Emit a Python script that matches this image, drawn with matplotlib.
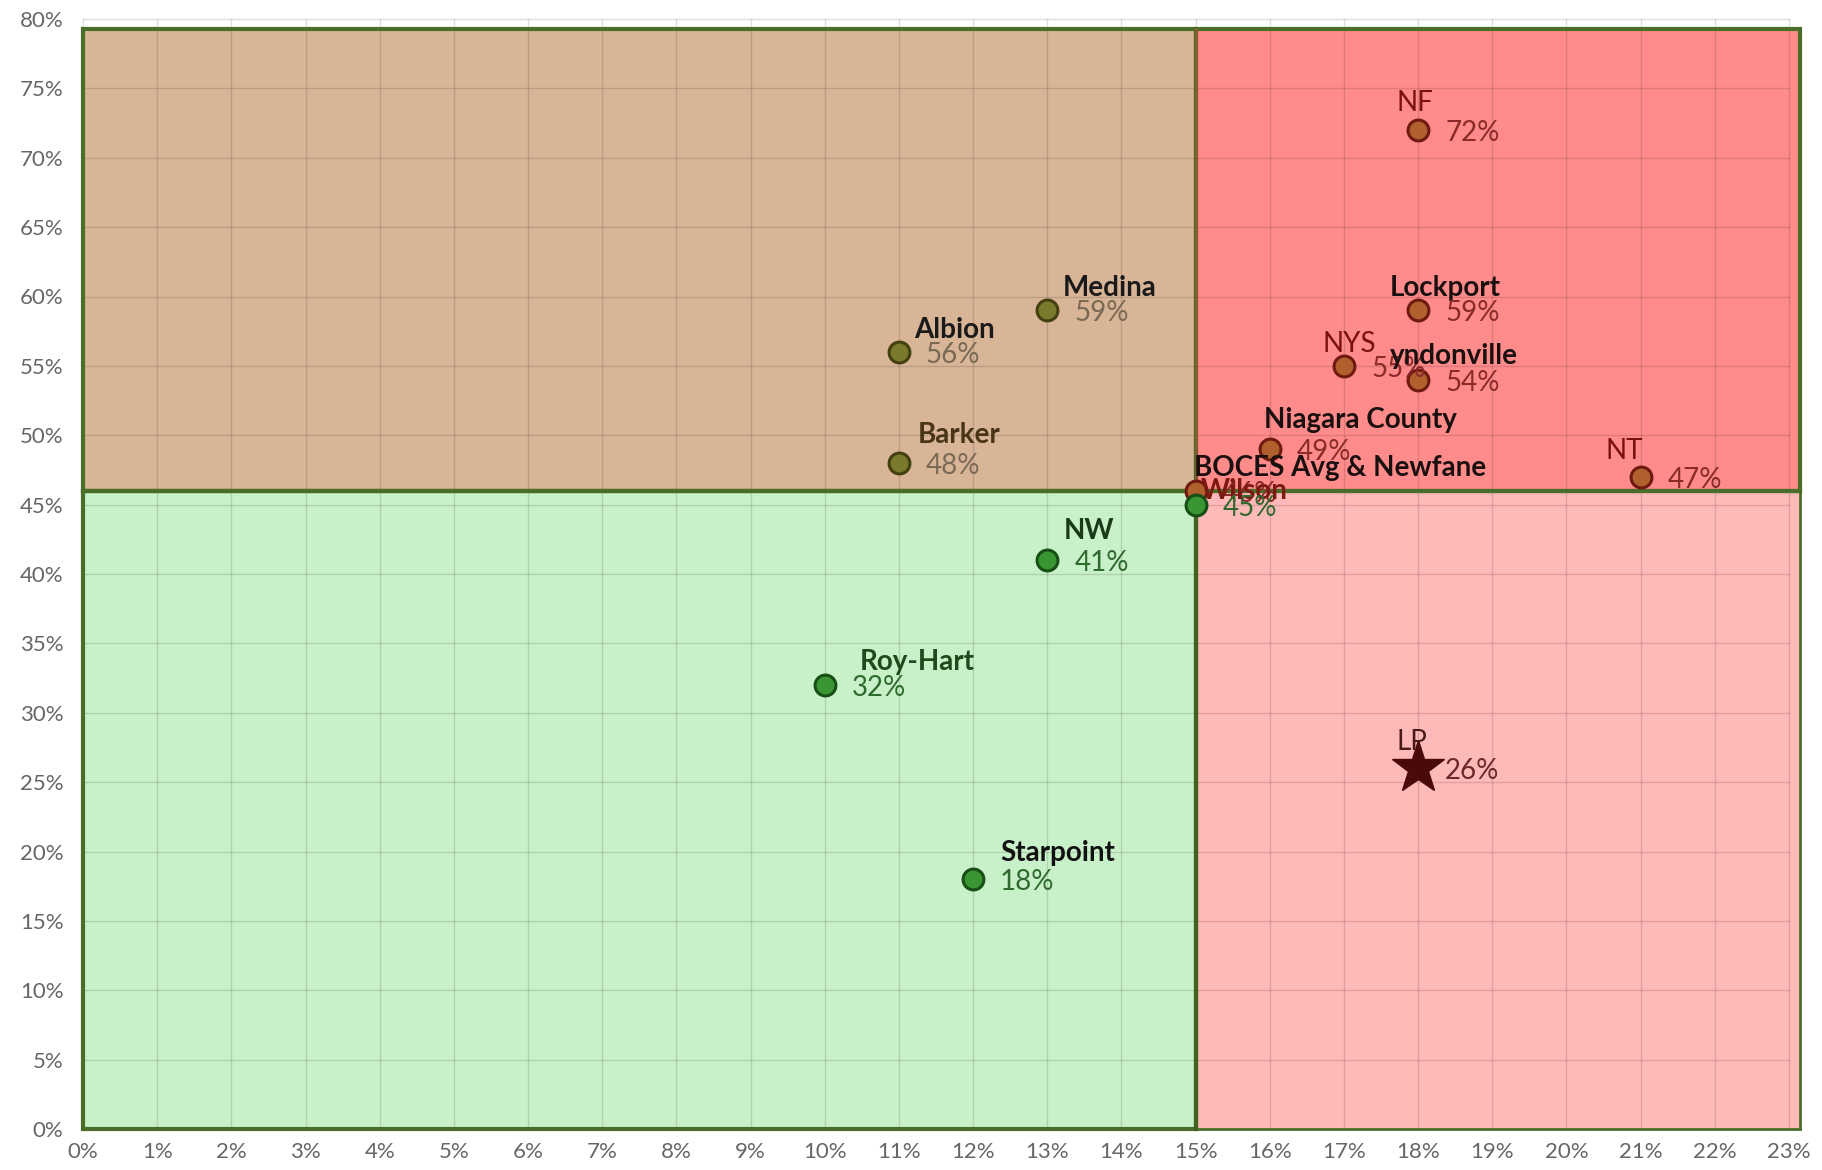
import matplotlib
matplotlib.use('Agg')
import matplotlib.pyplot as plt
from matplotlib.patches import Rectangle

plt.rcParams['font.family'] = ['Lato', 'DejaVu Sans']

# ---------------- data ----------------
names = ["NF", "Lockport", "NYS", "yndonville", "Niagara County", "NT",
         "BOCES Avg & Newfane", "Wilson", "Medina", "Albion", "Barker",
         "NW", "Roy-Hart", "Starpoint", "LP"]
x_vals = [18, 18, 17, 18, 16, 21, 15, 15, 13, 11, 11, 13, 10, 12, 18]
y_vals = [72, 59, 55, 54, 49, 47, 46, 45, 59, 56, 48, 41, 32, 18, 26]
groups = ["red", "red", "red", "red", "red", "red", "red", "green",
          "olive", "olive", "olive", "green", "green", "green", "star"]

x_ticks = list(range(0, 24))
y_ticks = list(range(0, 81, 5))
x_tick_labels = [f"{v}%" for v in x_ticks]
y_tick_labels = [f"{v}%" for v in y_ticks]

# quadrant boundaries (percent)
x_split = 15
y_split = 46
y_top = 79.3
x_right = 23.15

# ---------------- styles ----------------
marker_face = {"red": "#B0602C", "olive": "#7B792C", "green": "#3A9632", "star": "#4A0A0A"}
marker_edge = {"red": "#6E1A10", "olive": "#44400F", "green": "#174F17", "star": "#4A0A0A"}

# name-label offsets (pixels: dx right, dy down) and colours
name_off = {
    "NF": (-22, -27), "Lockport": (-28, -22), "NYS": (-21, -22), "yndonville": (-28, -24),
    "Niagara County": (-6, -29), "NT": (-35, -26), "BOCES Avg & Newfane": (-2, -23),
    "Wilson": (5, -14), "Medina": (15, -22), "Albion": (15, -22), "Barker": (19, -28),
    "NW": (16, -29), "Roy-Hart": (35, -23), "Starpoint": (27, -26), "LP": (-22, -26),
}
name_color = {
    "NF": "#7A1010", "Lockport": "#1A1010", "NYS": "#7A1010", "yndonville": "#1A1010",
    "Niagara County": "#1A1010", "NT": "#7A1010", "BOCES Avg & Newfane": "#1A1010",
    "Wilson": "#7A1A10", "Medina": "#1A1A1A", "Albion": "#1A1A1A", "Barker": "#4A3418",
    "NW": "#1A3A1A", "Roy-Hart": "#1E4A1E", "Starpoint": "#111111", "LP": "#4A1A1A",
}
name_weight = {"NF": "normal", "NYS": "normal", "NT": "normal", "LP": "normal"}
value_color = {"red": "#8A2A2A", "olive": "#7A6A55", "green": "#2E6A2E", "star": "#6A2A2A"}

# ---------------- figure ----------------
fig = plt.figure(figsize=(18.22, 11.70), dpi=100)
ax = fig.add_axes([83 / 1822, 1 - 1129 / 1170, (1789 - 83) / 1822, (1129 - 19) / 1170])
ax.set_xlim(0, 23)
ax.set_ylim(0, 80)
for s in ax.spines.values():
    s.set_visible(False)

border = "#4A6E28"
# quadrant fills
fills = [
    ((0, y_split), x_split, y_top - y_split, "#D8B597"),
    ((x_split, y_split), x_right - x_split, y_top - y_split, "#FF8B8B"),
    ((0, 0), x_split, y_split, "#C9F1C9"),
    ((x_split, 0), x_right - x_split, y_split, "#FFB9B9"),
]
for xy, w, h, c in fills:
    ax.add_patch(Rectangle(xy, w, h, facecolor=c, edgecolor="none", zorder=0.5, clip_on=False))

# grid
for v in x_ticks:
    ax.plot([v, v], [0, 80], color="black", alpha=0.13, lw=1, zorder=1, clip_on=False)
for v in y_ticks:
    ax.plot([0, 23], [v, v], color="black", alpha=0.13, lw=1, zorder=1, clip_on=False)

# borders
for xy, w, h, c in fills:
    lw = 2 if c == "#FFB9B9" else 3
    ax.add_patch(Rectangle(xy, w, h, facecolor="none", edgecolor=border, lw=lw, zorder=2, clip_on=False))
ax.plot([x_split, x_split], [y_split, y_top], color="#8A5A30", lw=2, zorder=2.1, clip_on=False)
ax.plot([0, x_right], [y_split, y_split], color=border, lw=3, zorder=2.2, clip_on=False)
ax.plot([x_split, x_split], [0, y_split], color="#3E6420", lw=3, zorder=2.2, clip_on=False)

# points
for n, x, y, g in zip(names, x_vals, y_vals, groups):
    if g == "star":
        ax.plot([x], [y], marker="*", markersize=40, color=marker_face[g],
                markeredgecolor=marker_edge[g], zorder=4, clip_on=False)
    else:
        ax.plot([x], [y], marker="o", markersize=15, markerfacecolor=marker_face[g],
                markeredgecolor=marker_edge[g], markeredgewidth=2.2, zorder=4, clip_on=False)

# labels
for n, x, y, g in zip(names, x_vals, y_vals, groups):
    dx, dy = name_off[n]
    ax.annotate(n, (x, y), xytext=(dx, -dy), textcoords="offset pixels",
                ha="left", va="center", fontsize=20,
                fontweight=name_weight.get(n, "bold"), color=name_color[n], zorder=5)
    ax.annotate(f"{y}%", (x, y), xytext=(27, -3), textcoords="offset pixels",
                ha="left", va="center", fontsize=20, color=value_color[g], zorder=5)

ax.set_xticks(x_ticks)
ax.set_xticklabels(x_tick_labels)
ax.set_yticks(y_ticks)
ax.set_yticklabels(y_tick_labels)
ax.tick_params(length=0, labelsize=16, labelcolor="#666666")
ax.tick_params(axis="y", pad=14)
ax.tick_params(axis="x", pad=9)

fig.savefig("out.png", dpi=100, facecolor="white")
